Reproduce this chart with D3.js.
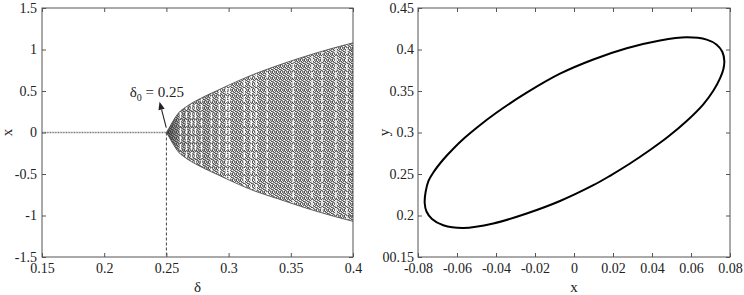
<!DOCTYPE html>
<html><head><meta charset="utf-8">
<script src="https://cdn.jsdelivr.net/npm/d3@7"></script>
<style>
body{margin:0;background:#fff;}
text{font-family:"Liberation Serif",serif;fill:#222;}
</style></head>
<body><svg id="c" width="744" height="295"></svg>
<script>
// ---------- data ----------
const leftXTicks = [0.15,0.2,0.25,0.3,0.35,0.4];
const leftXTickLabels = ["0.15","0.2","0.25","0.3","0.35","0.4"];
const leftYTicks = [-1.5,-1,-0.5,0,0.5,1,1.5];
const leftYTickLabels = ["-1.5","-1","-0.5","0","0.5","1","1.5"];
const rightXTicks = [-0.08,-0.06,-0.04,-0.02,0,0.02,0.04,0.06,0.08];
const rightXTickLabels = ["-0.08","-0.06","-0.04","-0.02","0","0.02","0.04","0.06","0.08"];
const rightYTicks = [0.15,0.2,0.25,0.3,0.35,0.4,0.45];
const rightYTickLabels = ["00.15","0.2","0.25","0.3","0.35","0.4","0.45"];

// fixed point branch (x = 0) before the bifurcation
const stableDelta = [0.15, 0.25];
const stableX = [0, 0];
// envelope of the oscillation after the Hopf point
const envDelta = [0.25,0.252,0.255,0.26,0.265,0.27,0.28,0.29,0.30,0.32,0.34,0.36,0.38,0.40];
const envUpper = [0,0.05,0.13,0.24,0.30,0.35,0.43,0.50,0.57,0.70,0.81,0.91,1.00,1.08];
const envLower = [0,-0.05,-0.13,-0.24,-0.30,-0.35,-0.43,-0.50,-0.57,-0.70,-0.80,-0.90,-0.99,-1.07];
// visible windows (white vertical gaps) inside the cloud
const gapDelta = [0.2613,0.2661,0.2702,0.2734,0.2782,0.2862,0.2926,0.2982,0.3006,0.3126,0.3182,0.3222,0.331,0.3519,0.3671,0.3751,0.3863,0.3951];
const delta0 = 0.25;
const annotationText = "δ";
const annotationSub = "0";
const annotationValue = " = 0.25";
const arrowFrom = [0.2499, 0.06];
const arrowTo = [0.2445, 0.37];
const labelPos = [0.2205, 0.43];

// limit cycle (right panel), read around the loop
const cycleX = [-0.07656,-0.07610,-0.07462,-0.07215,-0.06703,-0.06190,-0.05590,-0.04990,-0.03964,-0.02426,-0.00718,0.00990,0.02703,0.04410,0.05779,0.06805,0.07318,0.07605,0.07708,0.07656,0.07487,0.07144,0.06631,0.05779,0.04821,0.03897,0.02872,0.01846,0.00990,-0.00718,-0.02426,-0.04138,-0.05677,-0.06703,-0.07282,-0.07564];
const cycleY = [0.21506,0.22832,0.24157,0.25181,0.26747,0.28048,0.29386,0.30579,0.32410,0.34795,0.37084,0.38795,0.40145,0.41084,0.41470,0.41193,0.40578,0.39723,0.38615,0.37590,0.36530,0.35024,0.33398,0.31386,0.29482,0.27892,0.26265,0.24783,0.23651,0.21747,0.20241,0.19037,0.18494,0.18820,0.19579,0.20482];

// ---------- drawing ----------
const svg = d3.select("#c");
const defs = svg.append("defs");
// texture of the dense point cloud (style only)
const tex = [
  "#555","#fff","#777","#aaa",
  "#9a9a9a","#505050","#f2f2f2","#666",
  "#fff","#999","#5a5a5a","#bbb",
  "#666","#aaa","#fafafa","#4c4c4c",
  "#b0b0b0","#5c5c5c","#999","#fff",
  "#505050","#e6e6e6","#6a6a6a","#a0a0a0"
];
const pat = defs.append("pattern").attr("id","cloud").attr("patternUnits","userSpaceOnUse")
  .attr("width",4).attr("height",6);
tex.forEach((c,i)=>pat.append("rect").attr("x",i%4).attr("y",Math.floor(i/4)).attr("width",1).attr("height",1).attr("fill",c));
const grad = defs.append("linearGradient").attr("id","dark").attr("gradientUnits","userSpaceOnUse")
  .attr("x1",167).attr("x2",230).attr("y1",0).attr("y2",0);
grad.append("stop").attr("offset","0").attr("stop-color","#222").attr("stop-opacity",0.7);
grad.append("stop").attr("offset","0.2").attr("stop-color","#333").attr("stop-opacity",0.25);
grad.append("stop").attr("offset","1").attr("stop-color","#333").attr("stop-opacity",0);

const FS = 14;
const boxColor = "#555";

function drawAxes(x, y, xt, xl, yt, yl, xTitle, yTitle, yTitleX, labelGap){
  const [x0,x1] = x.range(), [y0,y1] = y.range();
  const gb = svg.append("g").attr("transform",`translate(0,${y0})`)
    .call(d3.axisBottom(x).tickValues(xt).tickFormat((d,i)=>xl[i]).tickSize(-4).tickPadding(6));
  const gt = svg.append("g").attr("transform",`translate(0,${y1})`)
    .call(d3.axisTop(x).tickValues(xt).tickFormat("").tickSize(-4));
  const gl = svg.append("g").attr("transform",`translate(${x0},0)`)
    .call(d3.axisLeft(y).tickValues(yt).tickFormat((d,i)=>yl[i]).tickSize(-4).tickPadding(labelGap));
  const gr = svg.append("g").attr("transform",`translate(${x1},0)`)
    .call(d3.axisRight(y).tickValues(yt).tickFormat("").tickSize(-4));
  [gb,gt,gl,gr].forEach(g=>{
    g.select(".domain").remove();
    g.selectAll(".tick line").attr("stroke",boxColor);
    g.selectAll("text").style("font-size",FS+"px").attr("fill","#222")
      .style("font-family",'"Liberation Serif",serif');
  });
  svg.append("rect").attr("x",x0).attr("y",y1).attr("width",x1-x0).attr("height",y0-y1)
    .attr("fill","none").attr("stroke",boxColor).attr("stroke-width",1);
  svg.append("text").attr("x",(x0+x1)/2).attr("y",y0+35).attr("text-anchor","middle")
    .style("font-size","15px").text(xTitle);
  svg.append("text").attr("transform",`translate(${yTitleX},${(y0+y1)/2}) rotate(-90)`)
    .attr("text-anchor","middle").style("font-size","15px").text(yTitle);
}

// Left panel
const xL = d3.scaleLinear().domain([0.15,0.4]).range([42,353]);
const yL = d3.scaleLinear().domain([-1.5,1.5]).range([257,8]);

const envData = envDelta.map((d,i)=>({d, u:envUpper[i], l:envLower[i]}));
const area = d3.area().x(d=>xL(d.d)).y0(d=>yL(d.l)).y1(d=>yL(d.u)).curve(d3.curveMonotoneX);
defs.append("clipPath").attr("id","envclip").append("path").attr("d",area(envData));

svg.append("path").attr("d",area(envData)).attr("fill","url(#cloud)");
svg.append("path").attr("d",area(envData)).attr("fill","url(#dark)");
svg.append("g").attr("clip-path","url(#envclip)").selectAll("line").data(gapDelta).join("line")
  .attr("x1",d=>xL(d)).attr("x2",d=>xL(d)).attr("y1",yL(1.5)).attr("y2",yL(-1.5))
  .attr("stroke","#fff").attr("stroke-width",1.5).attr("stroke-dasharray","6,2").attr("opacity",0.95);
const edgeU = d3.line().x(d=>xL(d.d)).y(d=>yL(d.u)).curve(d3.curveMonotoneX);
const edgeL = d3.line().x(d=>xL(d.d)).y(d=>yL(d.l)).curve(d3.curveMonotoneX);
svg.append("path").attr("d",edgeU(envData)).attr("fill","none").attr("stroke","#555").attr("stroke-width",0.9);
svg.append("path").attr("d",edgeL(envData)).attr("fill","none").attr("stroke","#555").attr("stroke-width",0.9);

svg.append("line").attr("x1",xL(stableDelta[0])).attr("x2",xL(stableDelta[1]))
  .attr("y1",yL(stableX[0])).attr("y2",yL(stableX[1]))
  .attr("stroke","#777").attr("stroke-width",1.3).attr("stroke-dasharray","1,0.6");
svg.append("line").attr("x1",xL(delta0)).attr("x2",xL(delta0))
  .attr("y1",yL(0)).attr("y2",yL(-1.5))
  .attr("stroke","#444").attr("stroke-width",1).attr("stroke-dasharray","3,2");

drawAxes(xL,yL,leftXTicks,leftXTickLabels,leftYTicks,leftYTickLabels,"δ","x",12,5);

// annotation arrow
const ax0 = xL(arrowFrom[0]), ay0 = yL(arrowFrom[1]), ax1 = xL(arrowTo[0]), ay1 = yL(arrowTo[1]);
const ang = Math.atan2(ay1-ay0, ax1-ax0);
const hl = 8, hw = 3.2;
const bx = ax1 - hl*Math.cos(ang), by = ay1 - hl*Math.sin(ang);
svg.append("line").attr("x1",ax0).attr("y1",ay0).attr("x2",bx).attr("y2",by).attr("stroke","#222").attr("stroke-width",1.1);
svg.append("path").attr("d",`M${ax1},${ay1}L${bx - hw*Math.sin(ang)},${by + hw*Math.cos(ang)}L${bx + hw*Math.sin(ang)},${by - hw*Math.cos(ang)}Z`).attr("fill","#222");
const lab = svg.append("text").attr("x",xL(labelPos[0])).attr("y",yL(labelPos[1])).style("font-size","15px");
lab.append("tspan").text(annotationText);
lab.append("tspan").attr("dy",4).style("font-size","10px").text(annotationSub);
lab.append("tspan").attr("dy",-4).text(annotationValue);

// Right panel
const xR = d3.scaleLinear().domain([-0.08,0.08]).range([418,730]);
const yR = d3.scaleLinear().domain([0.15,0.45]).range([257,8]);
const cyc = cycleX.map((v,i)=>[v,cycleY[i]]);
svg.append("path").attr("d",d3.line().x(d=>xR(d[0])).y(d=>yR(d[1])).curve(d3.curveCatmullRomClosed.alpha(0.5))(cyc))
  .attr("fill","none").attr("stroke","#000").attr("stroke-width",2);
drawAxes(xR,yR,rightXTicks,rightXTickLabels,rightYTicks,rightYTickLabels,"x","y",389,4);
</script></body></html>
